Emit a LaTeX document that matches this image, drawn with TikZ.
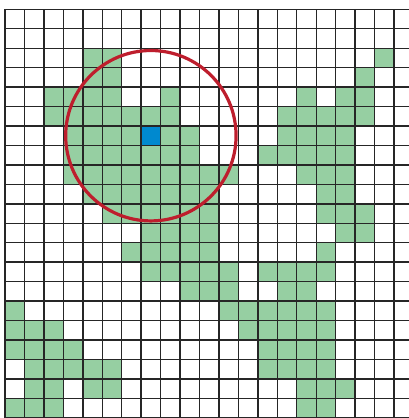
\documentclass[tikz,border=0pt]{standalone}
\definecolor{cellgreen}{RGB}{150,207,162}
\definecolor{cellblue}{RGB}{0,137,207}
\definecolor{ringred}{RGB}{190,30,45}
\begin{document}
\begin{tikzpicture}[x=0.75pt,y=-0.75pt,
  greencell/.style={fill=cellgreen},
  bluecell/.style={fill=cellblue},
  gridline/.style={draw=black!85,line width=1.05pt},
  ring/.style={draw=ringred,line width=2.4pt}]
\useasboundingbox (0,0) rectangle (409,418);
\clip (0,0) rectangle (409,418);
\fill[white] (0,0) rectangle (409,418);
\def\cs{19.45}
\def\ox{5}
\def\oy{9.3}
\foreach \r/\cols in {
  2/{4,5,19},
  3/{4,5,18},
  4/{2,3,4,5,8,15,17,18},
  5/{2,3,4,5,6,7,8,14,15,16,17,18},
  6/{3,4,5,6,7,8,9,14,15,16,17},
  7/{3,4,5,6,7,8,9,13,14,15,16,17},
  8/{3,4,5,6,7,8,9,10,11,15,16,17},
  9/{4,5,6,7,8,9,10,16,17},
  10/{5,6,7,8,9,10,16,17,18},
  11/{7,8,9,10,17,18},
  12/{6,7,8,9,10,16},
  13/{7,8,9,10,11,13,14,15,16},
  14/{9,10,11,14,15},
  15/{0,11,12,13,14,15,16},
  16/{0,1,2,12,13,14,15,16},
  17/{0,1,2,3,13,14,15,16},
  18/{1,2,3,4,5,13,14,15,16},
  19/{1,2,4,5,15,16,17},
  20/{0,1,2,15,16}}{
  \foreach \c in \cols {
    \fill[greencell] ({\ox+\c*\cs},{\oy+\r*\cs}) rectangle +(\cs,\cs);
  }
}
\fill[bluecell] ({\ox+7*\cs},{\oy+6*\cs}) rectangle +(\cs,\cs);
\foreach \i in {0,...,21} {
  \draw[gridline] ({\ox+\i*\cs},\oy) -- ({\ox+\i*\cs},420);
  \draw[gridline] (\ox,{\oy+\i*\cs}) -- (411,{\oy+\i*\cs});
}
\coordinate (ctr) at ({\ox+7.5*\cs},{\oy+6.5*\cs});
\draw[ring] (ctr) circle[radius=63.9pt];
\end{tikzpicture}
\end{document}
